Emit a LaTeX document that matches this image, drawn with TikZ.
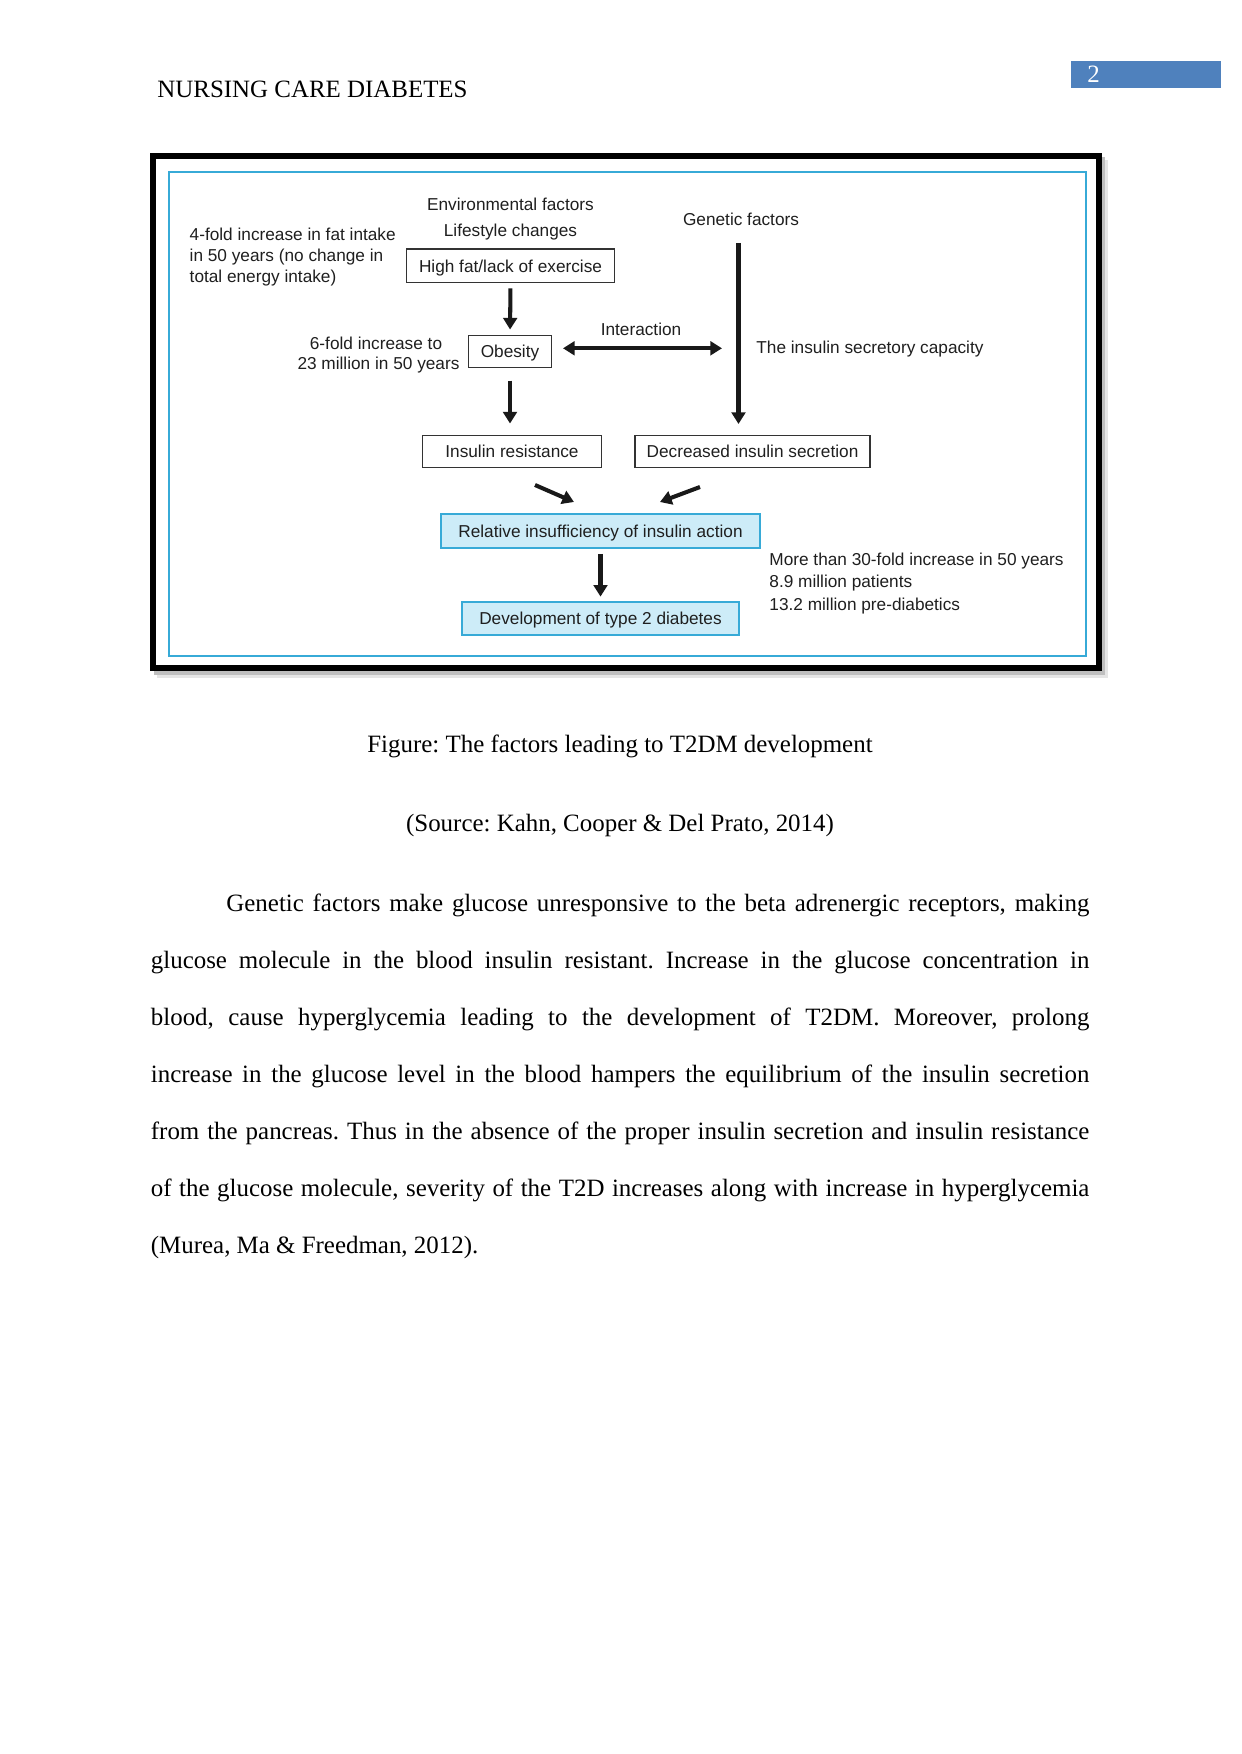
\documentclass[tikz,border=0pt]{standalone}
\usepackage{fontspec}
\setmainfont{Liberation Serif}
\newfontfamily\arialf{Liberation Sans}
\usetikzlibrary{arrows.meta}
\newlength\pxu
\setlength\pxu{0.169218mm}
\definecolor{frameblue}{RGB}{55,170,215}
\definecolor{boxfill}{RGB}{205,236,248}
\definecolor{pagenum}{RGB}{79,129,189}
\frenchspacing
\begin{document}
\frenchspacing
\begin{tikzpicture}[x=0.169218mm, y=-0.169218mm,
  dtext/.style={font=\arialf\fontsize{8.3}{9.9}\selectfont, text=black!88, inner sep=0pt},
  plainbox/.style={dtext, draw=black!80, line width=0.55pt, fill=white, text height=5.95pt, text depth=0pt},
  bluebox/.style={plainbox, draw=frameblue, fill=boxfill, line width=0.96pt},
  arr/.style={draw=black!90, line width=1.95pt, -{Triangle[length=5.6pt,width=6.6pt]}},
  darr/.style={draw=black!90, line width=1.95pt, {Triangle[length=5.6pt,width=6.6pt]}-{Triangle[length=5.6pt,width=6.6pt]}},
  body/.style={font=\fontsize{12}{14}\selectfont, inner sep=0pt, anchor=base west}]
\useasboundingbox (0,0) rectangle (1241,1754);
\fill[white] (0,0) rectangle (1241,1754);

% header
\node[font=\fontsize{12}{14}\selectfont, inner sep=0pt, anchor=base west] (head) at (157,98) {NURSING CARE DIABETES};
\node[fill=pagenum, minimum width=72pt, minimum height=13pt, inner sep=0pt] (pgbox) at (1146,74.7) {};
\node[font=\fontsize{12}{14}\selectfont, text=white, inner sep=0pt, anchor=base west] (pgnum) at (1087,82.7) {2};

% figure frame
\fill[black!10] (157,160) rectangle (1108,678);
\fill[black!25] (154,157) rectangle (1105,675);
\draw[black, line width=2.88pt, fill=white] (153,156) rectangle (1099,668);
\draw[frameblue, line width=0.96pt] (169,172) rectangle (1086,656);

% texts
\node[dtext, anchor=base] (env) at (510.5,211) {Environmental factors};
\node[dtext, anchor=base] (life) at (510.5,237) {Lifestyle changes};
\node[dtext, anchor=base] (gen) at (741,226) {Genetic factors};
\node[dtext, anchor=base west] (fat1) at (189.3,241) {4-fold increase in fat intake};
\node[dtext, anchor=base west] (fat2) at (189.3,261.7) {in 50 years (no change in};
\node[dtext, anchor=base west] (fat3) at (189.3,282.5) {total energy intake)};
\node[dtext, anchor=base] (six1) at (376,349.3) {6-fold increase to};
\node[dtext, anchor=base] (six2) at (378.5,370) {23 million in 50 years};
\node[dtext, anchor=base] (inter) at (641,336) {Interaction};
\node[dtext, anchor=base west] (capac) at (756,353.3) {The insulin secretory capacity};
\node[dtext, anchor=base west] (m1) at (769,565) {More than 30-fold increase in 50 years};
\node[dtext, anchor=base west] (m2) at (769,587.5) {8.9 million patients};
\node[dtext, anchor=base west] (m3) at (769,610) {13.2 million pre-diabetics};

% boxes
\node[plainbox, minimum width=99.8pt, minimum height=16.3pt] (hf) at (510.5,266) {High fat/lack of exercise};
\node[plainbox, minimum width=40.3pt, minimum height=15.8pt] (ob) at (510,351.5) {Obesity};
\node[plainbox, minimum width=86.4pt, minimum height=15.8pt] (ir) at (512,451.5) {Insulin resistance};
\node[plainbox, minimum width=113.2pt, minimum height=15.8pt] (dis) at (752.5,451.5) {Decreased insulin secretion};
\node[bluebox, minimum width=153.5pt, minimum height=16.3pt] (ri) at (600.5,531) {Relative insufficiency of insulin action};
\node[bluebox, minimum width=133.8pt, minimum height=16.3pt] (dev) at (600.5,618.5) {Development of type 2 diabetes};

% connectors
\draw[arr, shorten <=2.4pt, shorten >=2.4pt] (hf.south) -- (ob.north);
\draw[arr, shorten <=5.8pt, shorten >=5.3pt] (ob.south) -- (ob.south |- ir.north);
\coordinate (gtop) at (738.5,243);
\coordinate (gbot) at (738.5,424);
\draw[arr] (gtop) -- (gbot);
\coordinate (ia) at (563,348.3);
\coordinate (ib) at (722,348.3);
\draw[darr] (ia) -- (ib);
\coordinate (dl1) at (535,485);
\coordinate (dl2) at (574,502);
\draw[arr] (dl1) -- (dl2);
\coordinate (dr1) at (700,487);
\coordinate (dr2) at (660,502);
\draw[arr] (dr1) -- (dr2);
\draw[arr, shorten <=2.4pt, shorten >=1.9pt] (ri.south) -- (dev.north);

% captions
\node[font=\fontsize{12}{14}\selectfont, inner sep=0pt, anchor=base] (cap1) at (620,752) {Figure: The factors leading to T2DM development};
\node[font=\fontsize{12}{14}\selectfont, inner sep=0pt, anchor=base] (cap2) at (620,831) {(Source: Kahn, Cooper \& Del Prato, 2014)};

% body
\node[body] (l1) at (226,911.7) {\makebox[863\pxu][s]{Genetic factors make glucose unresponsive to the beta adrenergic receptors, making}};
\node[body] (l2) at (150.5,968.7) {\makebox[938.5\pxu][s]{glucose molecule in the blood insulin resistant. Increase in the glucose concentration in}};
\node[body] (l3) at (150.5,1025.7) {\makebox[938.5\pxu][s]{blood, cause hyperglycemia leading to the development of T2DM. Moreover, prolong}};
\node[body] (l4) at (150.5,1082.7) {\makebox[938.5\pxu][s]{increase in the glucose level in the blood hampers the equilibrium of the insulin secretion}};
\node[body] (l5) at (150.5,1139.7) {\makebox[938.5\pxu][s]{from the pancreas. Thus in the absence of the proper insulin secretion and insulin resistance}};
\node[body] (l6) at (150.5,1196.7) {\makebox[938.5\pxu][s]{of the glucose molecule, severity of the T2D increases along with increase in hyperglycemia}};
\node[body] (l7) at (150.5,1253.7) {(Murea, Ma \& Freedman, 2012).};
\end{tikzpicture}
\end{document}
